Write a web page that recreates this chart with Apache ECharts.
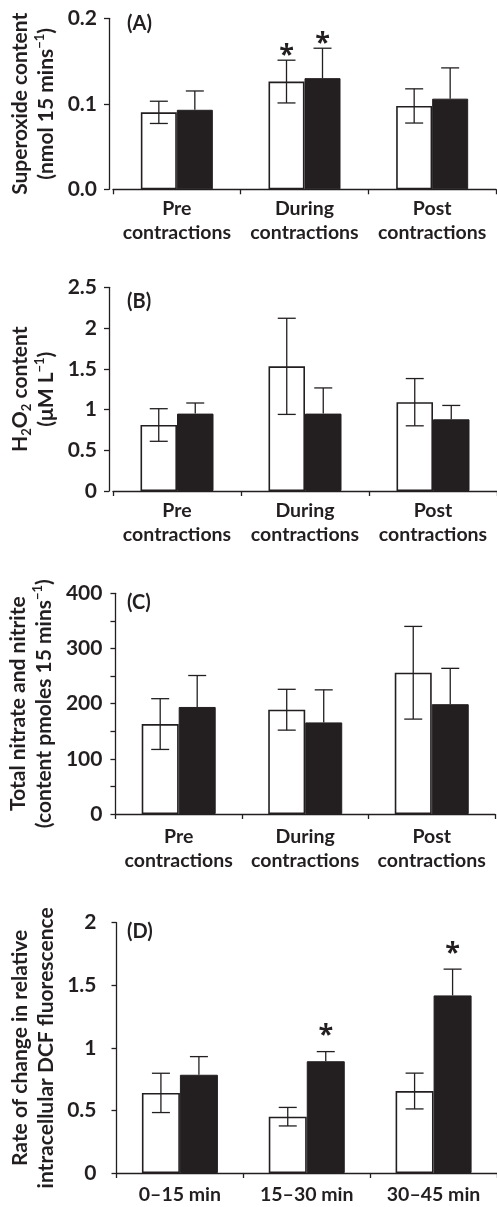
<!DOCTYPE html>
<html><head><meta charset="utf-8">
<script src="https://cdn.jsdelivr.net/npm/echarts@6/dist/echarts.min.js"></script>
<style>html,body{margin:0;padding:0;background:#fff}#c{width:497px;height:1207px}</style>
</head><body><div id="c"></div>
<script>
// ---------- data ----------
const catsContr = ['Pre\ncontractions', 'During\ncontractions', 'Post\ncontractions'];
const catsTime = ['0–15 min', '15–30 min', '30–45 min'];

// (A) Superoxide content
const ticksA = [0, 0.1, 0.2];
const aWhite = [0.090, 0.126, 0.0975];
const aWhiteErr = [0.013, 0.025, 0.020];
const aBlack = [0.093, 0.130, 0.106];
const aBlackErr = [0.022, 0.035, 0.036];
const aWhiteStar = [0, 1, 0];
const aBlackStar = [0, 1, 0];

// (B) H2O2 content
const ticksB = [0, 0.5, 1, 1.5, 2, 2.5];
const bWhite = [0.81, 1.53, 1.09];
const bWhiteErr = [0.20, 0.59, 0.29];
const bBlack = [0.95, 0.95, 0.88];
const bBlackErr = [0.13, 0.315, 0.17];
const bWhiteStar = [0, 0, 0];
const bBlackStar = [0, 0, 0];

// (C) Total nitrate and nitrite
const ticksC = [0, 50, 100, 150, 200, 250, 300, 350, 400];
const cWhite = [163, 189, 256];
const cWhiteErr = [46, 37, 84];
const cBlack = [194, 166, 199];
const cBlackErr = [57, 59, 65];
const cWhiteStar = [0, 0, 0];
const cBlackStar = [0, 0, 0];

// (D) DCF fluorescence
const ticksD = [0, 0.5, 1, 1.5, 2];
const dWhite = [0.64, 0.45, 0.655];
const dWhiteErr = [0.157, 0.074, 0.143];
const dBlack = [0.785, 0.893, 1.419];
const dBlackErr = [0.145, 0.077, 0.21];
const dWhiteStar = [0, 0, 0];
const dBlackStar = [0, 1, 1];

// ---------- style ----------
const INK = '#231f20';
const FONT = 'Lato, "Open Sans", "Liberation Sans", sans-serif';
const STAR_FONT = 'bold 27px "Open Sans", "DejaVu Sans", sans-serif';
const FS = 19.5;
const rich = {
  m: { fontFamily: FONT, fontWeight: 'bold', fontSize: 21, color: INK, lineHeight: 26 },
  s: { fontFamily: FONT, fontWeight: 'bold', fontSize: 13, color: INK, lineHeight: 13, verticalAlign: 'top' },
  b: { fontFamily: FONT, fontWeight: 'bold', fontSize: 13, color: INK, lineHeight: 12, verticalAlign: 'bottom' }
};

const panels = [
  { cats: catsContr, ticks: ticksA, white: aWhite, whiteErr: aWhiteErr, black: aBlack, blackErr: aBlackErr,
    whiteStar: aWhiteStar, blackStar: aBlackStar, label: '(A)', labelY: 24,
    name: '{m|Superoxide content}\n{m|(nmol 15 mins}{s|−1}{m|)}',
    grid: { left: 113, right: 1, top: 18.3, height: 171 }, yOffset: 4, barW: 36, nameGap: 45,
    yMargin: 12, xMargin: 7, starGap: 13, fmt: v => v.toFixed(1) },
  { cats: catsContr, ticks: ticksB, white: bWhite, whiteErr: bWhiteErr, black: bBlack, blackErr: bBlackErr,
    whiteStar: bWhiteStar, blackStar: bBlackStar, label: '(B)', labelY: 302,
    name: '{m|H}{b|2}{m|O}{b|2}{m| content}\n{m|(μM L}{s|−1}{m|)}',
    grid: { left: 113, right: 0, top: 287.3, height: 203.7 }, yOffset: 4, barW: 36.5, nameGap: 46,
    yMargin: 12, xMargin: 8, starGap: 13, fmt: v => String(v) },
  { cats: catsContr, ticks: ticksC, white: cWhite, whiteErr: cWhiteErr, black: cBlack, blackErr: cBlackErr,
    whiteStar: cWhiteStar, blackStar: cBlackStar, label: '(C)', labelY: 603,
    name: '{m|Total nitrate and nitrite}\n{m|(content pmoles 15 mins}{s|−1}{m|)}',
    grid: { left: 113, right: 2, top: 593.3, height: 220.7 }, yOffset: 0, barW: 37, nameGap: 52,
    yMargin: 13, xMargin: 11, starGap: 13, fmt: v => (v % 100 === 0 ? String(v) : '') },
  { cats: catsTime, ticks: ticksD, white: dWhite, whiteErr: dWhiteErr, black: dBlack, blackErr: dBlackErr,
    whiteStar: dWhiteStar, blackStar: dBlackStar, label: '(D)', labelY: 932,
    name: '{m|Rate of change in relative}\n{m|intracellular DCF fluorescence}',
    grid: { left: 116.5, right: -17, top: 922.7, height: 252.3 }, yOffset: 0, barW: 38, nameGap: 49,
    yMargin: 20, xMargin: 10, starGap: 24, fmt: v => String(v) }
];

function errRender(side, barW, capHalf, both, gap) {
  return function (params, api) {
    const i = api.value(0), v = api.value(1), e = api.value(2), star = api.value(3);
    const base = api.coord([i, v]);
    const x = base[0] + side * barW / 2;
    const yTop = api.coord([i, v + e])[1];
    const yBot = both ? api.coord([i, v - e])[1] : base[1];
    const ls = { stroke: INK, lineWidth: 1.3 };
    const children = [
      { type: 'line', shape: { x1: x, y1: yTop, x2: x, y2: yBot }, style: ls },
      { type: 'line', shape: { x1: x - capHalf, y1: yTop, x2: x + capHalf, y2: yTop }, style: ls }
    ];
    if (both) children.push({ type: 'line', shape: { x1: x - capHalf, y1: yBot, x2: x + capHalf, y2: yBot }, style: ls });
    if (star) children.push({ type: 'text', x: x, y: yTop - gap + 8,
      style: { text: '*', font: STAR_FONT, fill: INK, align: 'center', verticalAlign: 'middle' } });
    return { type: 'group', children };
  };
}

const grids = [], xAxes = [], yAxes = [], series = [], graphics = [];
panels.forEach((p, k) => {
  grids.push(Object.assign({ containLabel: false }, p.grid));
  xAxes.push({
    type: 'category', gridIndex: k, data: p.cats, boundaryGap: true,
    axisLine: { lineStyle: { color: INK, width: 1.3 } },
    axisTick: { show: true, length: 5, inside: false, lineStyle: { color: INK, width: 1.3 } },
    axisLabel: { interval: 0, margin: p.xMargin, color: INK, fontFamily: FONT, fontWeight: 'bold', fontSize: FS, lineHeight: 24 },
    splitLine: { show: false }
  });
  const step = p.ticks[1] - p.ticks[0];
  yAxes.push({
    type: 'value', gridIndex: k, min: p.ticks[0], max: p.ticks[p.ticks.length - 1], interval: step,
    offset: p.yOffset,
    axisLine: { show: true, lineStyle: { color: INK, width: 1.3 } },
    axisTick: { show: true, length: 5, lineStyle: { color: INK, width: 1.3 } },
    axisLabel: { margin: p.yMargin, color: INK, fontFamily: FONT, fontWeight: 'bold', fontSize: 21, formatter: p.fmt, showMinLabel: true, showMaxLabel: true },
    splitLine: { show: false },
    name: p.name, nameLocation: 'middle', nameRotate: 90, nameGap: p.nameGap,
    nameTextStyle: { rich: rich }
  });
  series.push({
    type: 'bar', xAxisIndex: k, yAxisIndex: k, data: p.white, barWidth: p.barW, barGap: '0%',
    itemStyle: { color: '#ffffff', borderColor: INK, borderWidth: 1.6 }, silent: true, z: 2
  });
  series.push({
    type: 'bar', xAxisIndex: k, yAxisIndex: k, data: p.black, barWidth: p.barW, barGap: '0%',
    itemStyle: { color: INK, borderColor: INK, borderWidth: 1 }, silent: true, z: 2
  });
  series.push({
    type: 'custom', xAxisIndex: k, yAxisIndex: k, z: 3, silent: true,
    renderItem: errRender(-1, p.barW, 9, true, p.starGap),
    data: p.cats.map((_, i) => [i, p.white[i], p.whiteErr[i], p.whiteStar[i]])
  });
  series.push({
    type: 'custom', xAxisIndex: k, yAxisIndex: k, z: 3, silent: true,
    renderItem: errRender(1, p.barW, 9, false, p.starGap),
    data: p.cats.map((_, i) => [i, p.black[i], p.blackErr[i], p.blackStar[i]])
  });
  graphics.push({ type: 'text', x: 127, y: p.labelY,
    style: { text: p.label, font: 'bold 20px ' + FONT, fill: INK, verticalAlign: 'middle' } });
});

const chart = echarts.init(document.getElementById('c'), null, { renderer: 'canvas' });
chart.setOption({
  animation: false,
  backgroundColor: '#ffffff',
  grid: grids, xAxis: xAxes, yAxis: yAxes, series: series, graphic: graphics
});
</script>
</body></html>
